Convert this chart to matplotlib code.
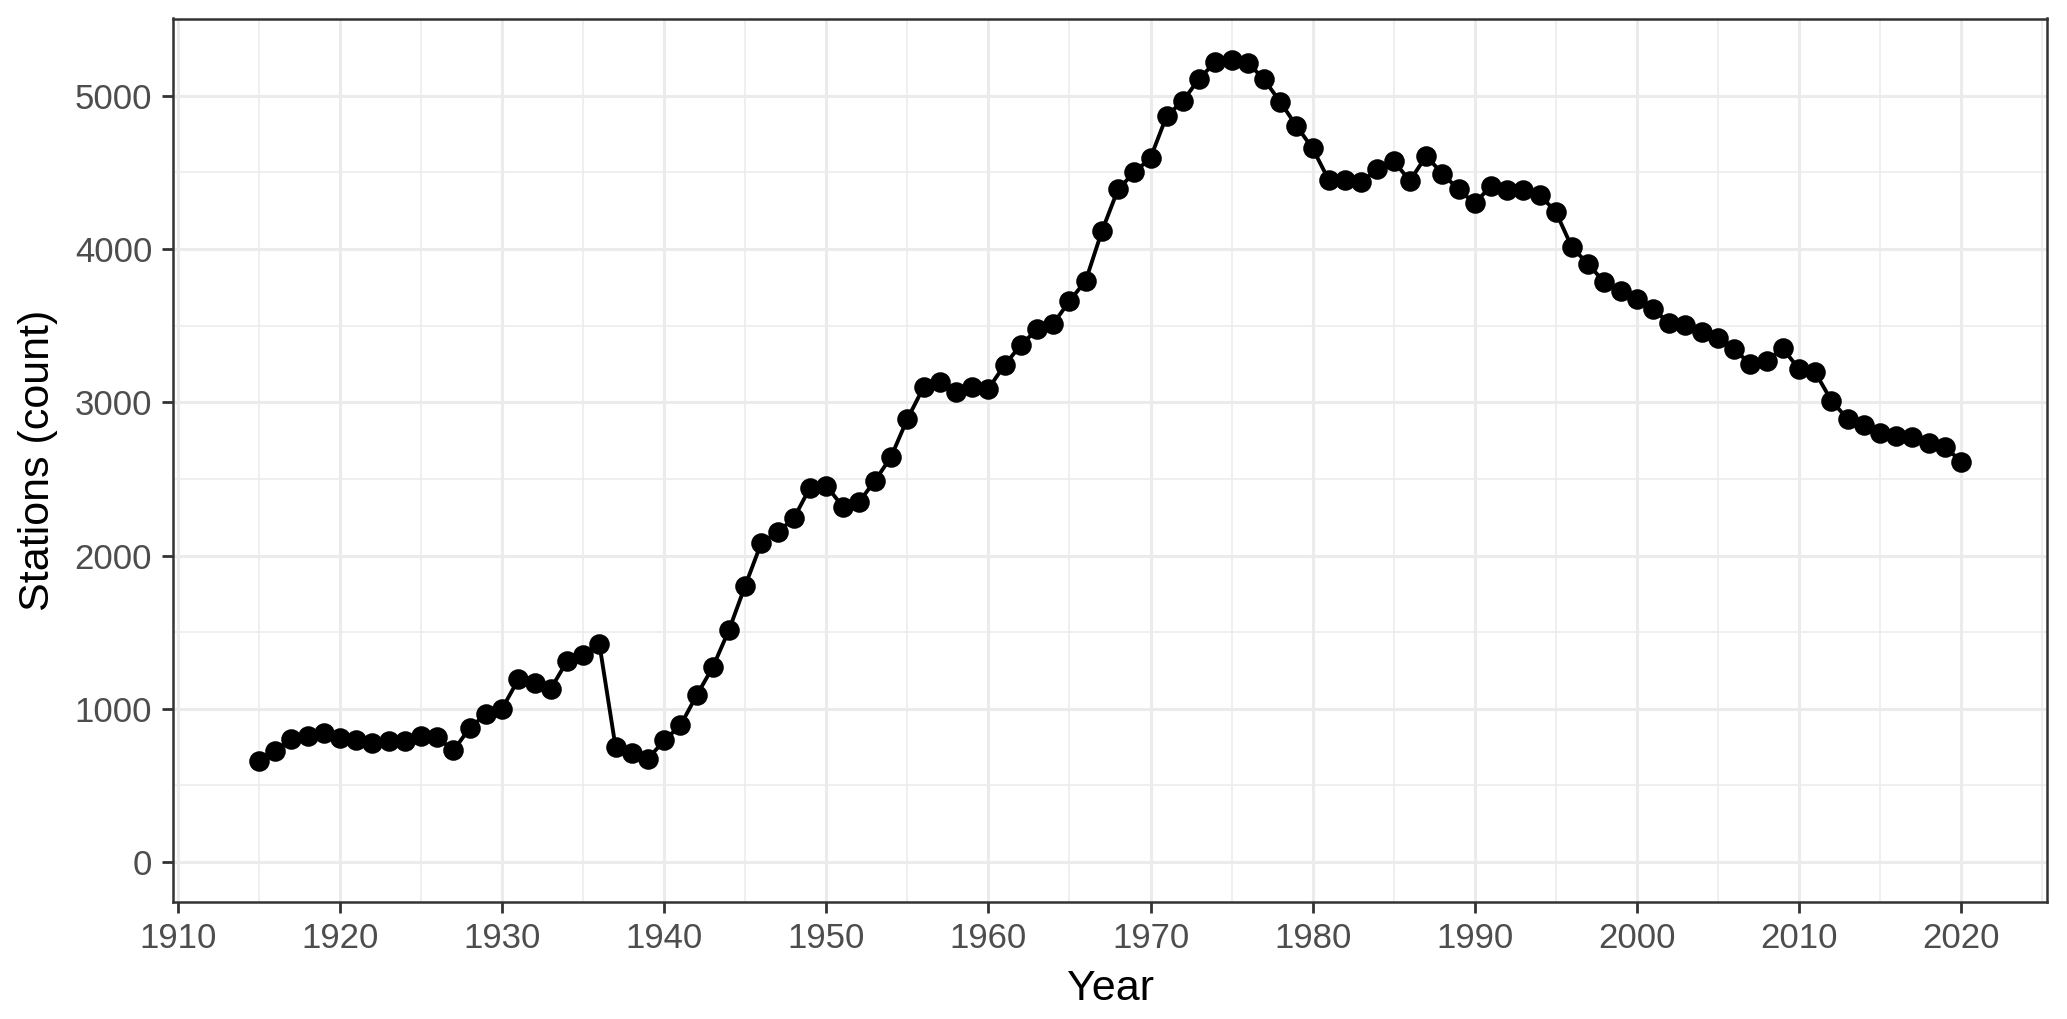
import matplotlib
matplotlib.use("Agg")
import matplotlib.pyplot as plt
from matplotlib.ticker import MultipleLocator

years = list(range(1915, 2021))
stations = [
    657, 722, 804, 824, 841, 811, 793, 778, 787, 787,      # 1915-1924
    820, 813, 728, 874, 965, 1000, 1191, 1170, 1130, 1309, # 1925-1934
    1348, 1424, 750, 712, 674, 793, 891, 1087, 1272, 1515, # 1935-1944
    1804, 2085, 2152, 2244, 2444, 2457, 2320, 2348, 2487, 2646, # 1945-1954
    2891, 3098, 3135, 3070, 3102, 3089, 3244, 3374, 3476, 3513, # 1955-1964
    3661, 3793, 4117, 4391, 4500, 4596, 4870, 4967, 5113, 5220, # 1965-1974
    5233, 5217, 5107, 4961, 4804, 4657, 4450, 4450, 4439, 4520, # 1975-1984
    4574, 4446, 4607, 4493, 4389, 4298, 4413, 4385, 4385, 4354, # 1985-1994
    4243, 4011, 3902, 3783, 3728, 3672, 3609, 3515, 3504, 3457, # 1995-2004
    3417, 3348, 3248, 3272, 3352, 3217, 3196, 3011, 2891, 2852, # 2005-2014
    2798, 2780, 2772, 2733, 2711, 2613,                         # 2015-2020
]
x_ticks = list(range(1910, 2021, 10))
y_ticks = [0, 1000, 2000, 3000, 4000, 5000]

plt.rcParams['font.family'] = ['Liberation Sans', 'DejaVu Sans']

fig = plt.figure(figsize=(2067 / 200, 1019 / 200), dpi=200)
ax = fig.add_axes([173 / 2067, 1 - 901.5 / 1019, (2047 - 173) / 2067, (901.5 - 18.5) / 1019])

grid_col = '#EBEBEB'
ax.set_xlim(1909.7, 2025.3)
ax.set_ylim(-258, 5505)
ax.set_xticks(x_ticks)
ax.set_yticks(y_ticks)
ax.xaxis.set_minor_locator(MultipleLocator(5))
ax.yaxis.set_minor_locator(MultipleLocator(500))
ax.grid(True, which='major', color=grid_col, linewidth=1.1, zorder=0)
ax.grid(True, which='minor', color=grid_col, linewidth=0.55, zorder=0)
ax.set_axisbelow(True)

ax.plot(years, stations, color='black', linewidth=1.4, zorder=3)
ax.plot(years, stations, linestyle='none', marker='o', markersize=6.4,
        color='black', zorder=4)

for s in ax.spines.values():
    s.set_color('#333333')
    s.set_linewidth(0.9)

ax.tick_params(axis='both', which='major', length=4, width=1.0, color='#333333',
               labelcolor='#4D4D4D', labelsize=12.5, pad=3.5)
ax.tick_params(axis='both', which='minor', length=0)

ax.set_xlabel('Year', fontsize=15.5, color='black', labelpad=5)
ax.set_ylabel('Stations (count)', fontsize=15.5, color='black', labelpad=6)

fig.savefig('out.png', dpi=200)
